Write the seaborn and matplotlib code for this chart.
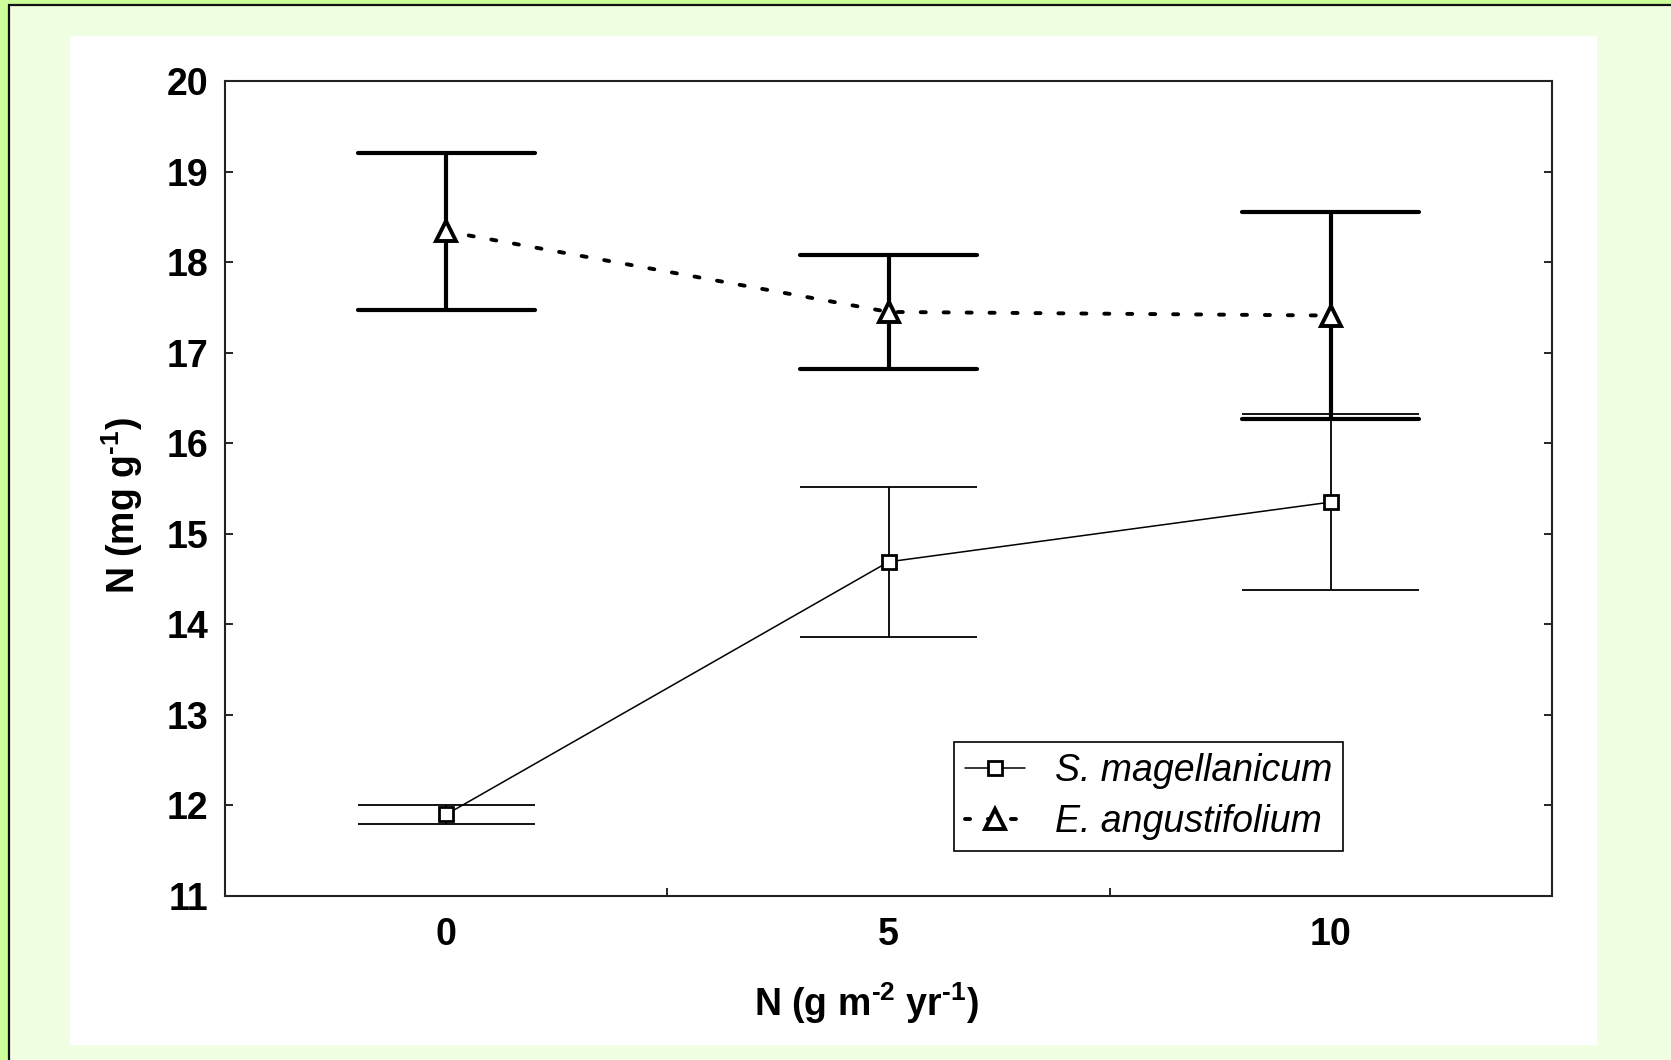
import matplotlib
matplotlib.use("Agg")
import matplotlib.pyplot as plt
from matplotlib.patches import Rectangle
import seaborn as sns
import pandas as pd

# ---- data ----
n_addition = [0, 5, 10]
s_mag_mean = [11.90, 14.69, 15.35]
s_mag_se = [0.11, 0.83, 0.97]
e_ang_mean = [18.34, 17.45, 17.41]
e_ang_se = [0.87, 0.63, 1.14]
series_names = ["S. magellanicum", "E. angustifolium"]
y_ticks = [11, 12, 13, 14, 15, 16, 17, 18, 19, 20]
x_ticks = [0, 5, 10]

W, H = 1671, 1060
DPI = 100

sns.set_theme(style="white")
plt.rcParams["font.family"] = ["Liberation Sans", "DejaVu Sans"]
plt.rcParams["mathtext.fontset"] = "custom"
plt.rcParams["mathtext.rm"] = "Liberation Sans:bold"
plt.rcParams["mathtext.bf"] = "Liberation Sans:bold"
plt.rcParams["mathtext.it"] = "Liberation Sans:bold"
for k in ["text.color", "axes.labelcolor", "xtick.color", "ytick.color"]:
    plt.rcParams[k] = "black"

fig = plt.figure(figsize=(W / DPI, H / DPI), dpi=DPI)
fig.patch.set_facecolor("#CCFF99")

# framed background
fig.add_artist(Rectangle((9 / W, -0.1), 1.2, 1.1 - 5 / H,
                         transform=fig.transFigure, facecolor="#F0FFE2",
                         edgecolor="#111111", linewidth=1.6, zorder=-3))
fig.add_artist(Rectangle((70 / W, 1 - 1045 / H), 1527 / W, 1009 / H,
                         transform=fig.transFigure, facecolor="white",
                         edgecolor="none", zorder=-2))

ax = fig.add_axes([225 / W, 1 - 896 / H, (1552 - 225) / W, (896 - 81) / H])
ax.set_facecolor("white")

df_s = pd.DataFrame({"x": n_addition, "y": s_mag_mean})
df_e = pd.DataFrame({"x": n_addition, "y": e_ang_mean})

CAP = 1.0  # half width of error bar caps (data units)

# error bars: S. magellanicum (thin)
s_lo = [m - e for m, e in zip(s_mag_mean, s_mag_se)]
s_hi = [m + e for m, e in zip(s_mag_mean, s_mag_se)]
ax.vlines(n_addition, s_lo, s_hi, color="black", linewidth=1.3, zorder=2)
ax.hlines(s_lo + s_hi, [x - CAP for x in n_addition] * 2, [x + CAP for x in n_addition] * 2,
          color="black", linewidth=1.3, zorder=2)

# error bars: E. angustifolium (thick)
e_lo = [m - e for m, e in zip(e_ang_mean, e_ang_se)]
e_hi = [m + e for m, e in zip(e_ang_mean, e_ang_se)]
ax.vlines(n_addition, e_lo, e_hi, color="black", linewidth=3.0, zorder=2,
          capstyle="round")
eh = ax.hlines(e_lo + e_hi, [x - CAP for x in n_addition] * 2, [x + CAP for x in n_addition] * 2,
               color="black", linewidth=3.0, zorder=2)
eh.set_capstyle("round")

sns.lineplot(data=df_s, x="x", y="y", ax=ax, color="black", linewidth=1.1,
             marker="s", markersize=10, markerfacecolor="white",
             markeredgecolor="black", markeredgewidth=2.0,
             label=series_names[0], zorder=4)
sns.lineplot(data=df_e, x="x", y="y", ax=ax, color="black", linewidth=2.8,
             linestyle=(0, (1.3, 4.6)), dash_capstyle="round",
             marker="^", markersize=15, markerfacecolor="white",
             markeredgecolor="black", markeredgewidth=2.8,
             label=series_names[1], zorder=4)

FS = 27
ax.set_xlim(-2.5, 12.5)
ax.set_ylim(11, 20)
ax.set_xticks(x_ticks)
ax.set_xticks([2.5, 7.5], minor=True)
ax.set_yticks(y_ticks)
ax.set_xticklabels([str(v) for v in x_ticks], fontsize=FS, fontweight="bold")
ax.set_yticklabels([str(v) for v in y_ticks], fontsize=FS, fontweight="bold")
ax.tick_params(axis="x", which="major", length=0, pad=15, bottom=True)
ax.tick_params(axis="x", which="minor", direction="in", length=6, width=1.2,
               bottom=True, top=False, color="black")
ax.tick_params(axis="y", which="major", direction="in", length=6, width=1.2,
               left=True, right=True, pad=12, color="black")

for sp in ax.spines.values():
    sp.set_visible(True)
    sp.set_color("#222222")
    sp.set_linewidth(1.5)

ax.set_xlabel(r"N (g m$^{\text{-2}}$ yr$^{\text{-1}}$)", fontsize=FS, fontweight="bold", va="top")
ax.xaxis.set_label_coords(0.483, -0.104)
ax.set_ylabel(r"N (mg g$^{\text{-1}}$)", fontsize=FS, fontweight="bold", va="bottom")
ax.yaxis.set_label_coords(-0.060, 0.479)

leg = ax.legend(loc="upper left", bbox_to_anchor=(0.549, 0.189), borderaxespad=0,
                frameon=True, fancybox=False, shadow=False, handlelength=1.6,
                handletextpad=0.8, borderpad=0.3, labelspacing=0.4,
                markerscale=1.0, prop={"size": FS, "style": "italic"})
leg.get_frame().set_edgecolor("black")
leg.get_frame().set_linewidth(1.2)
leg.get_frame().set_facecolor("white")
leg.get_frame().set_alpha(1)

fig.savefig("out.png", dpi=DPI, facecolor=fig.get_facecolor())
